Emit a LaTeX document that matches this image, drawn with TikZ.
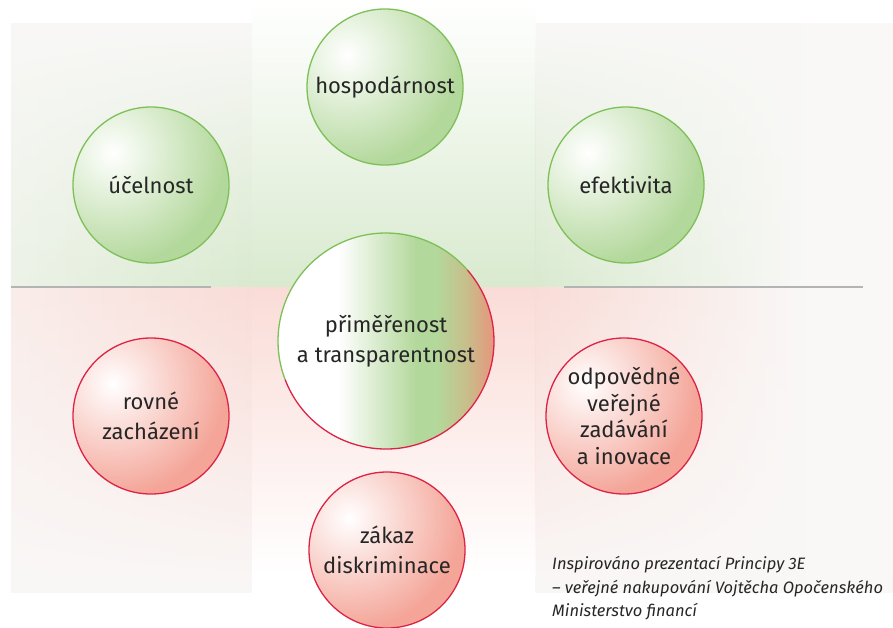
\documentclass[tikz,border=0pt]{standalone}
\usepackage{fontspec}
\setmainfont{Fira Sans}
\usetikzlibrary{fadings}
\definecolor{txt}{HTML}{262626}
\definecolor{bggreen}{HTML}{D9EACF}
\definecolor{bgpink}{HTML}{FADCD7}
\definecolor{panel}{HTML}{F9F8F7}
\definecolor{cgreen}{HTML}{B3D89B}
\definecolor{cgline}{HTML}{7DC057}
\definecolor{cred}{HTML}{F4A598}
\definecolor{crline}{HTML}{DC2346}
\definecolor{ctan}{HTML}{C9BD8A}
\definecolor{csal}{HTML}{E8937C}
\definecolor{rulegray}{HTML}{B4B4B4}
\newcommand{\softdisc}[4]{%
  \begin{scope}
    \clip (#1,#2) circle (#3);
    \fill[#4] (#1,#2) circle (#3);
    \shade[inner color=white, outer color=#4] ({#1-38},{#2-32}) circle (112pt);
  \end{scope}}
\begin{document}
\begin{tikzpicture}[x=1pt,y=-1pt,
  lbl/.style={text=txt, align=center, font=\fontsize{22}{30}\selectfont},
  gring/.style={circle, draw=cgline, line width=1.3pt, minimum size=156pt, inner sep=0pt},
  rring/.style={circle, draw=crline, line width=1.3pt, minimum size=156pt, inner sep=0pt},
  capt/.style={anchor=base west, inner sep=0pt, text=txt, font=\itshape\fontsize{16.5}{20}\selectfont},
  rulestyle/.style={draw=rulegray, line width=1.5pt}]
\useasboundingbox (0,0) rectangle (893,627);
% background panels
\fill[panel] (11,23) rectangle (252,593);
\fill[panel] (535,23) rectangle (893,593);
% green upper band
\shade[left color=bggreen!40!panel, right color=bggreen, path fading=north] (11,23) rectangle (252.5,287);
\shade[top color=white, bottom color=bggreen] (252,0) rectangle (535.5,287);
\shade[left color=bggreen, right color=panel, path fading=north] (535,23) rectangle (810,287);
% pink lower band
\shade[left color=bgpink!40!panel, right color=bgpink, path fading=south] (11,287) rectangle (252.5,593);
\shade[top color=bgpink, bottom color=white] (252,287) rectangle (535.5,575);
\shade[left color=bgpink, right color=panel, path fading=south] (535,287) rectangle (810,593);
% separating rules
\coordinate (r1a) at (11,287);
\coordinate (r1b) at (211,287);
\coordinate (r2a) at (564,287);
\coordinate (r2b) at (863,287);
\draw[rulestyle] (r1a) -- (r1b);
\draw[rulestyle] (r2a) -- (r2b);
% soft discs
\softdisc{385}{87}{78pt}{cgreen}
\softdisc{151}{185}{78pt}{cgreen}
\softdisc{626}{185}{78pt}{cgreen}
\softdisc{151}{416}{78pt}{cred}
\softdisc{624}{416}{78pt}{cred}
\softdisc{387}{550}{78pt}{cred}
% central disc fill
\begin{scope}
  \clip (386,341) circle (108pt);
  \fill[white] (277,232) rectangle (496,450);
  \shade[left color=white, right color=cgreen] (338,232) rectangle (416,450);
  \fill[cgreen] (415,232) rectangle (437,450);
  \shade[left color=cgreen, right color=ctan] (436,232) rectangle (468,450);
  \shade[left color=ctan, right color=csal] (467,232) rectangle (496,450);
\end{scope}
% nodes
\node[gring, lbl] (hosp) at (385,87) {hospodárnost};
\node[gring, lbl] (ucel) at (151,185) {účelnost};
\node[gring, lbl] (efek) at (626,185) {efektivita};
\node[rring, lbl] (rovne) at (151,416) {rovné\\zacházení};
\node[rring, lbl, font=\fontsize{22}{26.5}\selectfont] (odp) at (624,416) {odpovědné\\veřejné\\zadávání\\a inovace};
\node[rring, lbl] (zakaz) at (387,550) {zákaz\\diskriminace};
\node[circle, lbl, minimum size=216pt, inner sep=0pt] (pt) at (386,341) {přiměřenost\\a transparentnost};
\draw[cgline, line width=1.3pt] (pt.center) ++(41:108pt) arc[start angle=41, end angle=201, radius=108pt];
\draw[crline, line width=1.3pt] (pt.center) ++(201:108pt) arc[start angle=201, end angle=401, radius=108pt];
% caption
\node[capt] (cap1) at (552,569) {Inspirováno prezentací Principy 3E};
\node[capt] (cap2) at (552,593) {– veřejné nakupování Vojtěcha Opočenského};
\node[capt] (cap3) at (552,616) {Ministerstvo financí};
\end{tikzpicture}
\end{document}
